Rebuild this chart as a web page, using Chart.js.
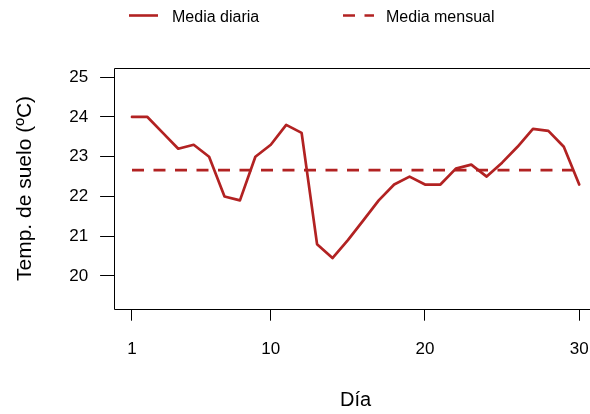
<!DOCTYPE html>
<html>
<head>
<meta charset="utf-8">
<script src="https://cdn.jsdelivr.net/npm/chart.js@4/dist/chart.umd.min.js"></script>
<style>
  html, body { margin: 0; padding: 0; background: #ffffff; overflow: hidden; width: 590px; height: 414px; }
  canvas { display: block; }
</style>
</head>
<body>
<canvas id="c" width="610" height="414"></canvas>
<script>
// ---- data ----
const days = [1,2,3,4,5,6,7,8,9,10,11,12,13,14,15,16,17,18,19,20,21,22,23,24,25,26,27,28,29,30];
const dailyMean = [24.0, 24.0, 23.6, 23.2, 23.3, 23.0, 22.0, 21.9, 23.0, 23.3,
                   23.8, 23.6, 20.8, 20.45, 20.9, 21.4, 21.9, 22.3, 22.5, 22.3,
                   22.3, 22.7, 22.8, 22.5, 22.85, 23.25, 23.7, 23.65, 23.25, 22.3];
const monthlyMean = 22.66;
const xTickValues = [1, 10, 20, 30];
const yTickValues = [20, 21, 22, 23, 24, 25];
const seriesLabels = ['Media diaria', 'Media mensual'];
const xTitle = 'Día';
const yTitle = 'Temp. de suelo (ºC)';

const RED = '#b22222';
const FONT = "'Liberation Sans', Arial, sans-serif";

const dailyPoints = days.map((d, i) => ({ x: d, y: dailyMean[i] }));
const meanPoints = [days[0], days[days.length - 1]].map(d => ({ x: d, y: monthlyMean }));

const boxPlugin = {
  id: 'boxPlugin',
  afterDraw(chart) {
    const ctx = chart.ctx;
    const a = chart.chartArea;
    const L = Math.round(a.left) + 0.5, T = Math.round(a.top) + 0.5, B = Math.round(a.bottom) + 0.5;
    ctx.save();
    ctx.strokeStyle = '#000';
    ctx.lineWidth = 1;
    ctx.beginPath();
    ctx.moveTo(a.right + 5, T); ctx.lineTo(L, T); ctx.lineTo(L, B); ctx.lineTo(a.right + 5, B);
    ctx.stroke();
    // legend
    ctx.lineWidth = 2.6;
    ctx.strokeStyle = RED;
    ctx.lineCap = 'butt';
    ctx.beginPath();
    ctx.moveTo(129, 15.5); ctx.lineTo(158, 15.5);
    ctx.stroke();
    ctx.setLineDash([12, 9.5]);
    ctx.beginPath();
    ctx.moveTo(343, 15.5); ctx.lineTo(374, 15.5);
    ctx.stroke();
    ctx.setLineDash([]);
    ctx.fillStyle = '#000';
    ctx.font = '16px ' + FONT;
    ctx.textBaseline = 'middle';
    ctx.textAlign = 'left';
    ctx.fillText(seriesLabels[0], 172, 17.5);
    ctx.fillText(seriesLabels[1], 386, 17.5);
    ctx.restore();
  }
};

new Chart(document.getElementById('c'), {
  type: 'line',
  data: {
    datasets: [
      { label: seriesLabels[0], data: dailyPoints, borderColor: RED, borderWidth: 2.7,
        pointRadius: 0, fill: false, tension: 0, borderJoinStyle: 'round', borderCapStyle: 'round' },
      { label: seriesLabels[1], data: meanPoints, borderColor: RED, borderWidth: 2.7,
        borderDash: [12, 9.5], pointRadius: 0, fill: false, tension: 0, borderCapStyle: 'butt' }
    ]
  },
  options: {
    responsive: false,
    animation: false,
    devicePixelRatio: 1,
    layout: { padding: { top: 68.3, right: 12.9, left: 0, bottom: 0 } },
    plugins: { legend: { display: false }, tooltip: { enabled: false }, title: { display: false } },
    scales: {
      x: {
        type: 'linear',
        min: -0.16, max: 31.16,
        afterBuildTicks: s => { s.ticks = xTickValues.map(v => ({ value: v })); },
        afterFit: s => { s.height = 414 - 308.7; },
        grid: { drawOnChartArea: false, drawTicks: true, tickLength: 12, color: '#000', tickColor: '#000' },
        border: { display: false },
        ticks: { color: '#000', font: { family: FONT, size: 17 }, padding: 18, maxRotation: 0,
                 callback: v => String(v) },
        title: { display: true, text: xTitle, color: '#000', font: { family: FONT, size: 20 },
                 padding: { top: 0, bottom: 2 } }
      },
      y: {
        type: 'linear',
        min: 19.176, max: 25.224,
        afterBuildTicks: s => { s.ticks = yTickValues.map(v => ({ value: v })); },
        afterFit: s => { s.width = 114.1; },
        grid: { drawOnChartArea: false, drawTicks: true, tickLength: 14, color: '#000', tickColor: '#000' },
        border: { display: false },
        ticks: { color: '#000', font: { family: FONT, size: 17 }, padding: 12,
                 callback: v => String(v) },
        title: { display: true, text: yTitle, color: '#000', font: { family: FONT, size: 21 },
                 padding: { top: 12.4, bottom: 0 } }
      }
    }
  },
  plugins: [boxPlugin]
});
</script>
</body>
</html>
